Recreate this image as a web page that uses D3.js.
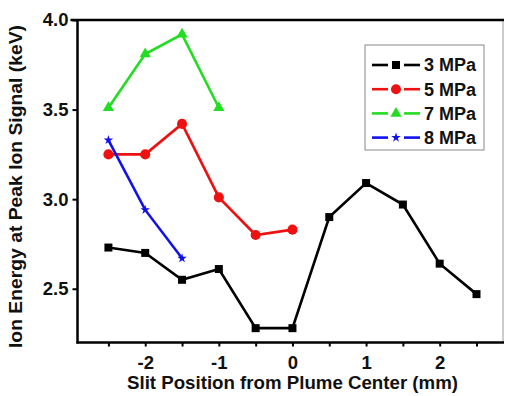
<!DOCTYPE html>
<html lang="en">
  <head>
    <meta charset="utf-8" />
    <title>Ion Energy vs Slit Position</title>
    <style>
      body {
        margin: 0;
        background: #fff;
        font-family: 'Liberation Sans', Arial, sans-serif;
        overflow: hidden;
      }
      svg {
        display: block;
      }
      text {
        font-weight: bold;
        fill: #111;
      }
    </style>
  </head>
  <body>
    <div class="container"></div>
    <script src="https://cdn.jsdelivr.net/npm/d3@7"></script>
    <script>
      // Data
      const pos3 = [-2.5, -2, -1.5, -1, -0.5, 0, 0.5, 1, 1.5, 2, 2.5];
      const mpa3 = [2.73, 2.7, 2.55, 2.61, 2.28, 2.28, 2.9, 3.09, 2.97, 2.64, 2.47];
      const pos5 = [-2.5, -2, -1.5, -1, -0.5, 0];
      const mpa5 = [3.25, 3.25, 3.42, 3.01, 2.8, 2.83];
      const pos7 = [-2.5, -2, -1.5, -1];
      const mpa7 = [3.51, 3.81, 3.92, 3.51];
      const pos8 = [-2.5, -2, -1.5];
      const mpa8 = [3.33, 2.94, 2.67];
      const seriesNames = ['3 MPa', '5 MPa', '7 MPa', '8 MPa'];
      const xTicks = [-2, -1, 0, 1, 2];
      const xMinor = [-2.5, -1.5, -0.5, 0.5, 1.5, 2.5];
      const yTicks = [2.5, 3.0, 3.5, 4.0];

      const width = 505;
      const height = 396;
      const mLeft = 77.5, mRight = 503, mTop = 20, mBottom = 342.5;

      const series = [
        { name: seriesNames[0], xs: pos3, ys: mpa3, color: '#000000', sym: d3.symbolSquare, size: 64 },
        { name: seriesNames[1], xs: pos5, ys: mpa5, color: '#ee1111', sym: d3.symbolCircle, size: 80 },
        { name: seriesNames[2], xs: pos7, ys: mpa7, color: '#22dd22', sym: d3.symbolTriangle, size: 55 },
        { name: seriesNames[3], xs: pos8, ys: mpa8, color: '#1111ee', sym: d3.symbolStar, size: 28 },
      ];

      const svg = d3
        .select('div.container')
        .append('svg')
        .attr('width', width)
        .attr('height', height);

      const x = d3.scaleLinear().domain([-2.92, 2.86]).range([mLeft, mRight]);
      const y = d3.scaleLinear().domain([2.2, 4.0]).range([mBottom, mTop]);

      // Frame: thin grey right edge, thick black left/top/bottom
      svg
        .append('line')
        .attr('x1', mRight)
        .attr('x2', mRight)
        .attr('y1', mTop)
        .attr('y2', mBottom)
        .attr('stroke', '#999')
        .attr('stroke-width', 1);
      svg
        .append('line')
        .attr('x1', mLeft - 7)
        .attr('x2', mRight + 1)
        .attr('y1', mTop)
        .attr('y2', mTop)
        .attr('stroke', '#000')
        .attr('stroke-width', 2.5);

      // X axis (plain hyphen for negatives, like the original)
      const xAxis = svg
        .append('g')
        .attr('transform', `translate(0,${mBottom})`)
        .call(
          d3
            .axisBottom(x)
            .tickValues(xTicks)
            .tickFormat((d) => String(d))
            .tickSize(4)
            .tickPadding(9),
        );
      svg
        .append('g')
        .attr('transform', `translate(0,${mBottom})`)
        .call(d3.axisBottom(x).tickValues(xMinor).tickFormat('').tickSize(4))
        .select('.domain')
        .remove();
      xAxis.select('.domain').attr('d', `M${mLeft - 1},0H${mRight + 1}`);

      // Y axis
      const yAxis = svg
        .append('g')
        .attr('transform', `translate(${mLeft},0)`)
        .call(d3.axisLeft(y).tickValues(yTicks).tickFormat(d3.format('.1f')).tickSize(5).tickPadding(4));
      yAxis.select('.domain').attr('d', `M0,${mTop}V${mBottom + 1}`);

      svg
        .selectAll('.tick line')
        .attr('stroke', '#000')
        .attr('stroke-width', 2);
      svg.selectAll('.domain').attr('stroke', '#000').attr('stroke-width', 2.5);
      svg
        .selectAll('.tick text')
        .style('font-size', '18.5px')
        .style('font-weight', 'bold')
        .style('font-family', "'Liberation Sans', Arial, sans-serif")
        .attr('fill', '#111');

      // Axis titles
      svg
        .append('text')
        .attr('x', 292.5)
        .attr('y', 389)
        .attr('text-anchor', 'middle')
        .attr('textLength', 331)
        .attr('lengthAdjust', 'spacingAndGlyphs')
        .style('font-size', '17.5px')
        .text('Slit Position from Plume Center (mm)');
      svg
        .append('text')
        .attr('transform', 'translate(22,186.5) rotate(-90)')
        .attr('text-anchor', 'middle')
        .attr('textLength', 323)
        .attr('lengthAdjust', 'spacingAndGlyphs')
        .style('font-size', '18px')
        .text('Ion Energy at Peak Ion Signal (keV)');

      // Series
      const line = d3
        .line()
        .x((d) => x(d[0]))
        .y((d) => y(d[1]));
      series.forEach((s) => {
        const pts = s.xs.map((v, i) => [v, s.ys[i]]);
        svg
          .append('path')
          .datum(pts)
          .attr('d', line)
          .attr('fill', 'none')
          .attr('stroke', s.color)
          .attr('stroke-width', 2.6);
        svg
          .append('g')
          .selectAll('path')
          .data(pts)
          .join('path')
          .attr('transform', (d) => `translate(${x(d[0])},${y(d[1])})`)
          .attr('d', d3.symbol(s.sym, s.size))
          .attr('fill', s.color);
      });

      // Legend
      const lg = svg.append('g');
      lg.append('rect')
        .attr('x', 365)
        .attr('y', 45)
        .attr('width', 119)
        .attr('height', 105)
        .attr('fill', '#fff')
        .attr('stroke', '#888')
        .attr('stroke-width', 1);
      series.forEach((s, i) => {
        const ly = 65 + i * 24.2;
        lg.append('line')
          .attr('x1', 372)
          .attr('x2', 388)
          .attr('y1', ly)
          .attr('y2', ly)
          .attr('stroke', s.color)
          .attr('stroke-width', 2.6);
        lg.append('line')
          .attr('x1', 404)
          .attr('x2', 420)
          .attr('y1', ly)
          .attr('y2', ly)
          .attr('stroke', s.color)
          .attr('stroke-width', 2.6);
        lg.append('path')
          .attr('transform', `translate(396,${ly})`)
          .attr('d', d3.symbol(s.sym, s.size))
          .attr('fill', s.color);
        lg.append('text')
          .attr('x', 424)
          .attr('y', ly)
          .attr('dy', '0.36em')
          .style('font-size', '18px')
          .text(s.name);
      });
    </script>
  </body>
</html>
